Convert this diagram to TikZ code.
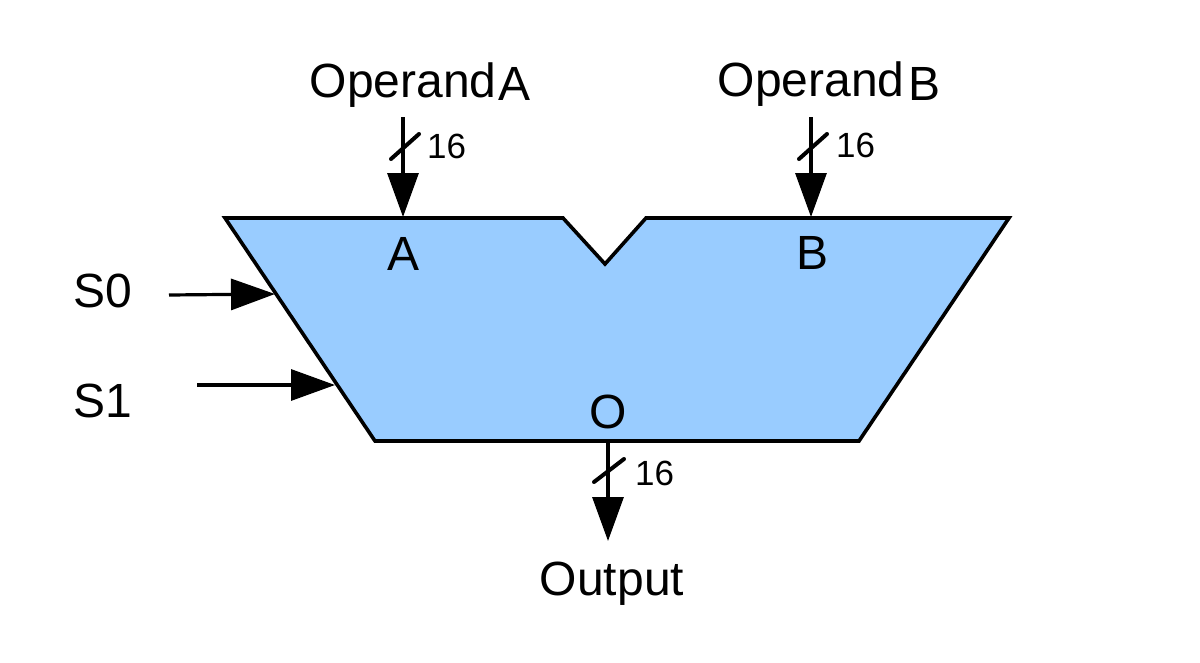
\documentclass[tikz,border=0pt]{standalone}
\usepackage{fontspec}
\setmainfont{Liberation Sans}
\usetikzlibrary{arrows.meta}
\definecolor{alu}{HTML}{99CCFF}
\tikzset{
  px/.style={x=1pt,y=-1pt},
  lab/.style={inner sep=0pt,anchor=base,font=\fontsize{48}{48}\selectfont,text=black},
  labw/.style={lab,anchor=base west},
  num/.style={inner sep=0pt,anchor=base west,font=\fontsize{35}{35}\selectfont,text=black},
  bus/.style={line width=3.2pt,draw=black,-{Triangle[length=44pt,width=31pt]}},
  ctl/.style={line width=3.2pt,draw=black,-{Triangle[length=44pt,width=31pt]}},
  tick/.style={line width=4pt,draw=black,line cap=round},
  alubody/.style={draw=black,fill=alu,line width=3.6pt,line join=miter}
}
\begin{document}
\begin{tikzpicture}[px]
\useasboundingbox (0,0) rectangle (1200,662);
\fill[white] (0,0) rectangle (1200,662);
\draw[alubody] (225,218) -- (563,218) -- (605,264) -- (646,218) -- (1009,218) -- (859,441) -- (375,441) -- cycle;
\node[labw] (opa) at (309.5,97) {Operand\hspace{2pt}\raisebox{-3pt}{A}};
\node[labw] (opb) at (717.5,96) {Operand\hspace{4pt}\raisebox{-4pt}{B}};
\node[lab] (a) at (404,270) {A};
\node[lab] (b) at (812,269) {B};
\node[lab] (o) at (608,428) {O};
\node[lab] (out) at (612,595) {Output};
\node[labw] (s0) at (73,307) {S0};
\node[labw] (s1) at (73,417) {S1};
\node[num] (n1) at (427,158) {16};
\node[num] (n2) at (836,157) {16};
\node[num] (n3) at (635,485) {16};
\coordinate (a0) at (403,117); \coordinate (a1) at (403,217);
\coordinate (b0) at (811,117); \coordinate (b1) at (811,217);
\coordinate (o0) at (608,441); \coordinate (o1) at (608,541);
\coordinate (c0) at (169,295); \coordinate (c1) at (275,294);
\coordinate (d0) at (197,385); \coordinate (d1) at (335,385);
\draw[bus] (a0) -- (a1);
\draw[bus] (b0) -- (b1);
\draw[bus] (o0) -- (o1);
\draw[ctl] (c0) -- (c1);
\draw[ctl] (d0) -- (d1);
\draw[tick] (391,159) -- (419,134);
\draw[tick] (799,159) -- (827,134);
\draw[tick] (594,482) -- (624,459);
\end{tikzpicture}
\end{document}
